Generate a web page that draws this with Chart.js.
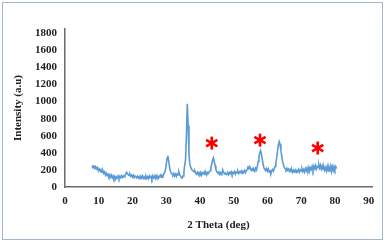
<!DOCTYPE html>
<html lang="en">
<head>
  <meta charset="UTF-8">
  <title>XRD pattern</title>
  <script src="https://cdn.jsdelivr.net/npm/chart.js@4"></script>
  <style>
    html, body { margin: 0; padding: 0; background: #fff; }
    #wrap { position: relative; width: 387px; height: 244px; }
    #frame { position: absolute; left: 2px; top: 2px; width: 379px; height: 236px; border: 1px solid #a3b8cc; pointer-events: none; }
  </style>
</head>
<body>
  <div id="wrap">
    <canvas id="xrdChart" width="387" height="244"></canvas>
    <div id="frame"></div>
  </div>
  <script>
    // 2 theta (deg) positions of the measured points
    const twoTheta = [
      8, 8.25, 8.5, 8.75, 9, 9.25, 9.5, 9.75, 10, 10.25, 10.5, 10.75, 11, 11.25, 11.5, 11.75,
      12, 12.25, 12.5, 12.75, 13, 13.25, 13.5, 13.75, 14, 14.25, 14.5, 14.75, 15, 15.25, 15.5, 15.75,
      16, 16.25, 16.5, 16.75, 17, 17.25, 17.5, 17.75, 18, 18.25, 18.5, 18.75, 19, 19.25, 19.5, 19.75,
      20, 20.25, 20.5, 20.75, 21, 21.25, 21.5, 21.75, 22, 22.25, 22.5, 22.75, 23, 23.25, 23.5, 23.75,
      24, 24.25, 24.5, 24.75, 25, 25.25, 25.5, 25.75, 26, 26.25, 26.5, 26.75, 27, 27.25, 27.5, 27.75,
      28, 28.25, 28.5, 28.75, 29, 29.25, 29.5, 29.75, 30, 30.25, 30.5, 30.75, 31, 31.25, 31.5, 31.75,
      32, 32.25, 32.5, 32.75, 33, 33.25, 33.5, 33.75, 34, 34.25, 34.5, 34.75, 35, 35.25, 35.5, 35.75,
      36, 36.25, 36.5, 36.75, 37, 37.25, 37.5, 37.75, 38, 38.25, 38.5, 38.75, 39, 39.25, 39.5, 39.75,
      40, 40.25, 40.5, 40.75, 41, 41.25, 41.5, 41.75, 42, 42.25, 42.5, 42.75, 43, 43.25, 43.5, 43.75,
      44, 44.25, 44.5, 44.75, 45, 45.25, 45.5, 45.75, 46, 46.25, 46.5, 46.75, 47, 47.25, 47.5, 47.75,
      48, 48.25, 48.5, 48.75, 49, 49.25, 49.5, 49.75, 50, 50.25, 50.5, 50.75, 51, 51.25, 51.5, 51.75,
      52, 52.25, 52.5, 52.75, 53, 53.25, 53.5, 53.75, 54, 54.25, 54.5, 54.75, 55, 55.25, 55.5, 55.75,
      56, 56.25, 56.5, 56.75, 57, 57.25, 57.5, 57.75, 58, 58.25, 58.5, 58.75, 59, 59.25, 59.5, 59.75,
      60, 60.25, 60.5, 60.75, 61, 61.25, 61.5, 61.75, 62, 62.25, 62.5, 62.75, 63, 63.25, 63.5, 63.75,
      64, 64.25, 64.5, 64.75, 65, 65.25, 65.5, 65.75, 66, 66.25, 66.5, 66.75, 67, 67.25, 67.5, 67.75,
      68, 68.25, 68.5, 68.75, 69, 69.25, 69.5, 69.75, 70, 70.25, 70.5, 70.75, 71, 71.25, 71.5, 71.75,
      72, 72.25, 72.5, 72.75, 73, 73.25, 73.5, 73.75, 74, 74.25, 74.5, 74.75, 75, 75.25, 75.5, 75.75,
      76, 76.25, 76.5, 76.75, 77, 77.25, 77.5, 77.75, 78, 78.25, 78.5, 78.75, 79, 79.25, 79.5, 79.75,
      80, 80.25, 80.5
    ];
    // intensity (a.u)
    const intensity = [
      250, 228, 245, 220, 238, 212, 230, 205, 195, 210, 185, 200, 170, 188, 160, 178,
      140, 160, 135, 150, 122, 142, 115, 138, 108, 130, 100, 125, 92, 118, 105, 128,
      100, 125, 108, 132, 112, 128, 118, 140, 150, 172, 158, 145, 135, 150, 125, 140,
      118, 138, 110, 130, 122, 108, 128, 104, 120, 98, 125, 110, 130, 102, 118, 95,
      128, 105, 120, 98, 130, 110, 124, 96, 132, 108, 126, 100, 135, 112, 128, 104,
      122, 140, 115, 132, 118, 150, 165, 200, 260, 340, 365, 300, 230, 185, 160, 150,
      140, 160, 130, 150, 125, 155, 140, 175, 145, 130, 110, 105, 130, 180, 260, 330,
      620, 975, 720, 380, 270, 230, 210, 195, 190, 175, 185, 160, 150, 172, 145, 168,
      150, 172, 140, 165, 155, 175, 148, 168, 142, 170, 160, 178, 190, 230, 270, 310,
      340, 300, 250, 200, 180, 165, 175, 150, 170, 145, 160, 200, 170, 155, 165, 148,
      150, 172, 145, 168, 155, 178, 148, 170, 160, 182, 152, 175, 165, 185, 158, 178,
      170, 190, 160, 182, 175, 195, 168, 190, 200, 235, 225, 240, 210, 195, 215, 190,
      205, 185, 220, 200, 240, 300, 360, 400, 425, 380, 320, 260, 220, 205, 195, 215,
      185, 210, 175, 200, 150, 190, 205, 185, 215, 240, 280, 340, 420, 490, 530, 500,
      430, 360, 300, 260, 230, 215, 200, 220, 195, 210, 185, 205, 180, 200, 172, 195,
      178, 198, 170, 192, 182, 205, 175, 200, 188, 212, 180, 205, 175, 215, 190, 222,
      195, 230, 185, 225, 205, 240, 200, 245, 215, 250, 210, 240, 225, 260, 220, 255,
      212, 245, 205, 235, 198, 228, 190, 240, 188, 232, 200, 245, 182, 238, 195, 240,
      205, 238, 215
    ];
    // red asterisk markers above the extra peaks
    const starTheta = [43.5, 57.8, 74.9];
    const starLevel = [514, 549, 456];

    const xTicks = [0, 10, 20, 30, 40, 50, 60, 70, 80, 90];
    const yTicks = [0, 200, 400, 600, 800, 1000, 1200, 1400, 1600, 1800];

    const tickFont = { family: "'Liberation Serif', 'Times New Roman', serif", size: 11, weight: 'bold' };
    const titleFont = { family: "'Liberation Serif', 'Times New Roman', serif", size: 11, weight: 'bold' };

    const asteriskPlugin = {
      id: 'asterisks',
      afterDatasetsDraw(chart) {
        const { ctx, scales } = chart;
        ctx.save();
        ctx.strokeStyle = '#ff0000';
        ctx.lineWidth = 2.6;
        starTheta.forEach((t, i) => {
          const cx = scales.x.getPixelForValue(t);
          const cy = scales.y.getPixelForValue(starLevel[i]);
          const r = 6.5;
          [90, 30, 150].forEach(a => {
            const rad = a * Math.PI / 180;
            ctx.beginPath();
            ctx.moveTo(cx - r * Math.cos(rad), cy - r * Math.sin(rad));
            ctx.lineTo(cx + r * Math.cos(rad), cy + r * Math.sin(rad));
            ctx.stroke();
          });
        });
        ctx.restore();
      }
    };

    const ctx = document.getElementById('xrdChart').getContext('2d');
    new Chart(ctx, {
      type: 'line',
      data: {
        datasets: [{
          data: twoTheta.map((t, i) => ({ x: t, y: intensity[i] })),
          borderColor: '#5b9bd5',
          borderWidth: 1.6,
          pointRadius: 0,
          tension: 0,
          fill: false
        }]
      },
      options: {
        responsive: false,
        animation: false,
        layout: { padding: { left: 8, top: 29, right: 15, bottom: 8 } },
        plugins: { legend: { display: false }, tooltip: { enabled: false } },
        scales: {
          x: {
            type: 'linear',
            min: 0,
            max: 91,
            afterBuildTicks(scale) { scale.ticks = xTicks.map(v => ({ value: v })); },
            grid: { display: false, drawTicks: false },
            border: { display: true, color: '#6b6b6b', width: 1.5 },
            ticks: { font: tickFont, color: '#222', padding: 8, maxRotation: 0, callback: v => String(v) },
            title: { display: true, text: '2 Theta (deg)', font: titleFont, color: '#222', padding: { top: 10 } },
            afterFit(scale) { scale.height = 49; }
          },
          y: {
            min: 0,
            max: 1850,
            afterBuildTicks(scale) { scale.ticks = yTicks.map(v => ({ value: v })); },
            grid: { display: false, drawTicks: false },
            border: { display: true, color: '#6b6b6b', width: 1.5 },
            ticks: { font: tickFont, color: '#222', padding: 8, callback: v => String(v) },
            title: { display: true, text: 'Intensity (a.u)', font: titleFont, color: '#222' },
            afterFit(scale) { scale.width = 57; }
          }
        }
      },
      plugins: [asteriskPlugin]
    });
  </script>
</body>
</html>
